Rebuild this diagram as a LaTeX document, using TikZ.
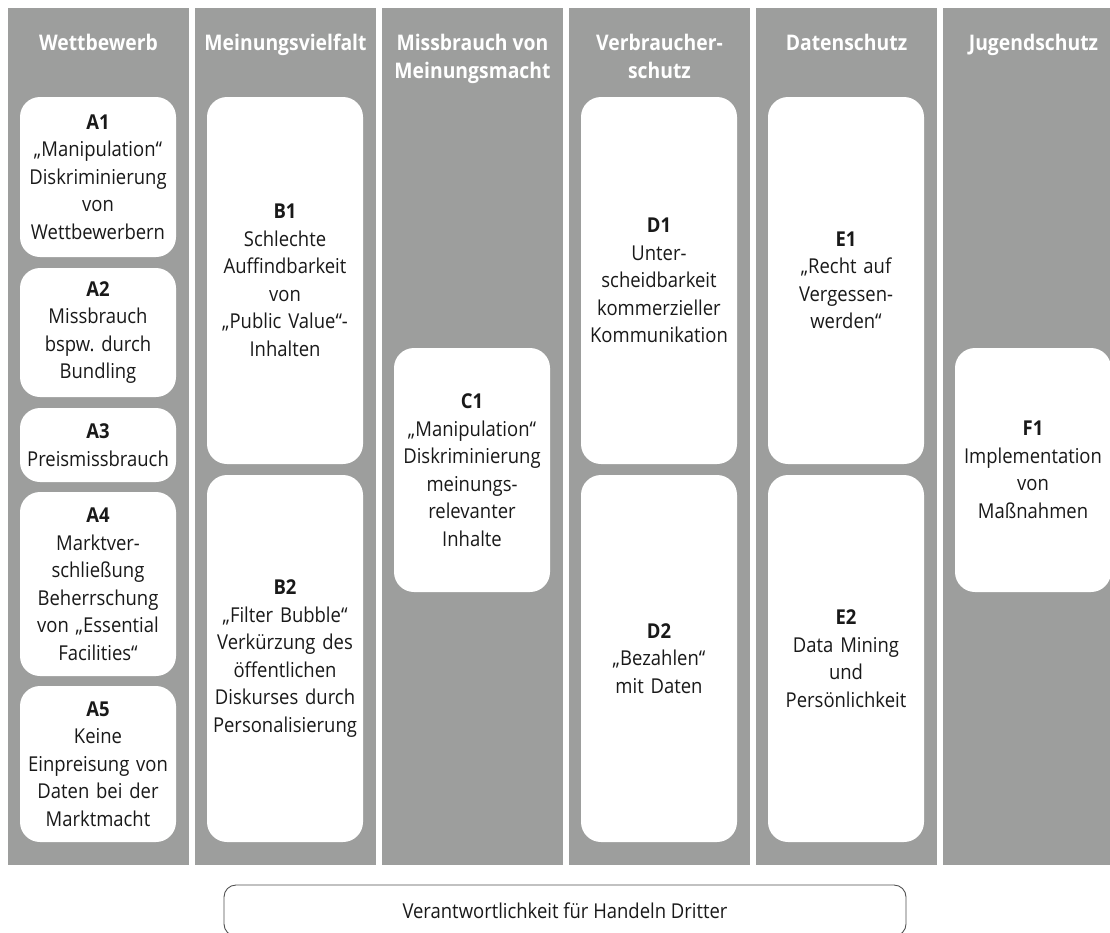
\documentclass[tikz,border=0pt]{standalone}
\usepackage{fontspec}
\setmainfont{Open Sans}[FakeStretch=0.9]
\frenchspacing
\definecolor{colgray}{RGB}{157,158,157}
\definecolor{ink}{RGB}{25,25,25}
\definecolor{frame}{RGB}{80,80,80}
\newcommand{\bodysize}{\fontsize{20.5}{27.5}\selectfont}
\newcommand{\headsize}{\fontsize{21.5}{28}\selectfont\bfseries}
\begin{document}
\begin{tikzpicture}[x=1pt,y=-1pt,
  column/.style={fill=colgray},
  header/.style={text=white,font=\headsize,align=center,inner sep=0pt},
  card/.style={fill=white,rounded corners=20pt,minimum width=156pt,
    text width=152pt,align=center,inner sep=2pt,text=ink,font=\bodysize},
  footer/.style={draw=frame,line width=0.9pt,rounded corners=12pt,
    minimum width=682pt,minimum height=51pt,text=ink,font=\bodysize}]
\useasboundingbox (0,0) rectangle (1110,932);

% six grey columns
\foreach \xl in {8,195,382,569,756,943}
  \fill[column] (\xl,8) rectangle ++(181,857);

% column headings
\node[header,anchor=base] (hA) at (98.5,50) {Wettbewerb};
\node[header,anchor=base] (hB) at (285.5,50) {Meinungsvielfalt};
\node[header,anchor=base] (hC) at (472.5,78) {Missbrauch von\\Meinungsmacht};
\node[header,anchor=base] (hD) at (659.5,78) {Verbraucher-\\schutz};
\node[header,anchor=base] (hE) at (846.5,50) {Datenschutz};
\node[header,anchor=base] (hF) at (1033.5,50) {Jugendschutz};

% Wettbewerb
\node[card,minimum height=160pt] (A1) at (98,177)
  {\textbf{A1}\\„Manipulation“\\Diskriminierung\\von\\Wettbewerbern};
\node[card,minimum height=129pt] (A2) at (98,332.5)
  {\textbf{A2}\\Missbrauch\\bspw. durch\\Bundling};
\node[card,minimum height=74pt] (A3) at (98,445)
  {\textbf{A3}\\Preismissbrauch};
\node[card,minimum height=184pt] (A4) at (98,584)
  {\textbf{A4}\\Marktver-\\schließung\\Beherrschung\\von „Essential\\Facilities“};
\node[card,minimum height=156pt] (A5) at (98,764)
  {\textbf{A5}\\Keine\\Einpreisung von\\Daten bei der\\Marktmacht};

% Meinungsvielfalt
\node[card,minimum height=367pt] (B1) at (285,280.5)
  {\textbf{B1}\\Schlechte\\Auffindbarkeit\\von\\„Public Value“-\\Inhalten};
\node[card,minimum height=367pt] (B2) at (285,658.5)
  {\textbf{B2}\\„Filter Bubble“\\Verkürzung des\\öffentlichen\\Diskurses durch\\Personalisierung};

% Missbrauch von Meinungsmacht
\node[card,minimum height=244pt] (C1) at (472,470)
  {\textbf{C1}\\„Manipulation“\\Diskriminierung\\meinungs-\\relevanter\\Inhalte};

% Verbraucherschutz
\node[card,minimum height=367pt] (D1) at (659,280.5)
  {\textbf{D1}\\Unter-\\scheidbarkeit\\kommerzieller\\Kommunikation};
\node[card,minimum height=367pt] (D2) at (659,658.5)
  {\textbf{D2}\\„Bezahlen“\\mit Daten};

% Datenschutz
\node[card,minimum height=367pt] (E1) at (846,280.5)
  {\textbf{E1}\\„Recht auf\\Vergessen-\\werden“};
\node[card,minimum height=367pt] (E2) at (846,658.5)
  {\textbf{E2}\\Data Mining\\und\\Persönlichkeit};

% Jugendschutz
\node[card,minimum height=244pt] (F1) at (1033,470)
  {\textbf{F1}\\Implementation\\von\\Maßnahmen};

% cross-cutting issue below the columns
\node[footer] (G) at (565,910.5) {Verantwortlichkeit für Handeln Dritter};
\end{tikzpicture}
\end{document}
